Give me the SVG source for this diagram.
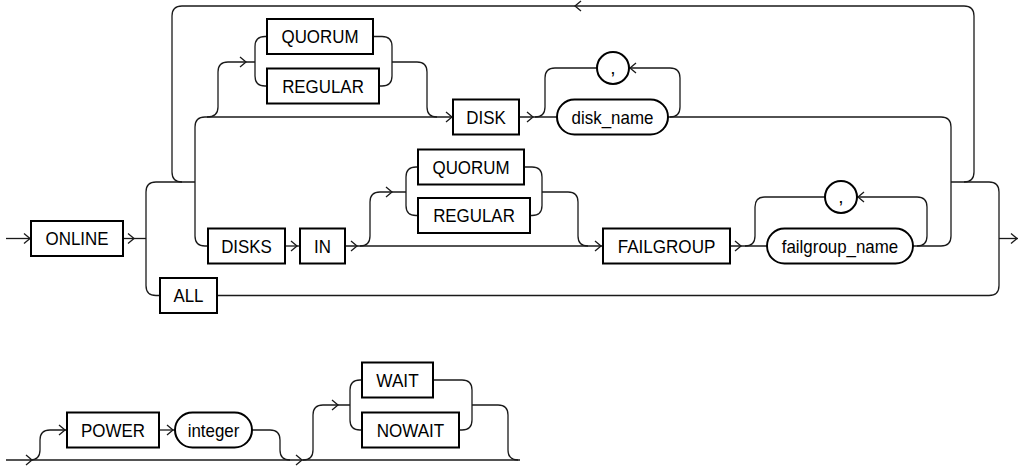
<svg xmlns="http://www.w3.org/2000/svg" xmlns:xlink="http://www.w3.org/1999/xlink" width="1018" height="469" viewBox="0 0 1018 469">
<style>
.c{fill:none;stroke:#1a1a1a;stroke-width:1.3}
.b{fill:#fff;stroke:#000;stroke-width:2}
.t{font-family:"Liberation Sans",Arial,sans-serif;font-size:19px;fill:#000;text-anchor:middle}
</style>
<defs>
<path id="ar" d="M-6,-5 L0,0 L-6,5" fill="none" stroke="#1a1a1a" stroke-width="1.3"/>
<path id="al" d="M6,-5 L0,0 L6,5" fill="none" stroke="#1a1a1a" stroke-width="1.3"/>
</defs>
<g id="connectors">
<path class="c" d="M6,238.5 H31"/>
<path class="c" d="M123,238.5 H146"/>
<path class="c" d="M195,182 H156 Q146,182 146,192 V285.5 Q146,295.5 156,295.5 H160"/>
<path class="c" d="M182,182 Q172,182 172,172 V16 Q172,6 182,6 H964 Q974,6 974,16 V172 Q974,182 964,182"/>
<path class="c" d="M205,117 Q195,117 195,127 V236 Q195,246 205,246 H208"/>
<path class="c" d="M205,117 H453"/>
<path class="c" d="M207,117 Q218,117 218,107 V72 Q218,62 228,62 H255"/>
<path class="c" d="M267,36.5 H265 Q255,36.5 255,46.5 V76 Q255,86 265,86 H267"/>
<path class="c" d="M373,36.5 H382 Q392,36.5 392,46.5 V76 Q392,86 382,86 H379"/>
<path class="c" d="M392,62 H417 Q427,62 427,72 V107 Q427,117 437,117"/>
<path class="c" d="M519,117 H557"/>
<path class="c" d="M535,117 Q545,117 545,107 V78 Q545,68 555,68 H597"/>
<path class="c" d="M629,68 H670 Q680,68 680,78 V107 Q680,117 670,117"/>
<path class="c" d="M668,117 H941 Q951,117 951,127 V236 Q951,246 941,246 H913"/>
<path class="c" d="M285,246 H300"/>
<path class="c" d="M345,246 H603"/>
<path class="c" d="M360,246 Q370,246 370,236 V202 Q370,192 380,192 H406"/>
<path class="c" d="M418,167 H416 Q406,167 406,177 V205.5 Q406,215.5 416,215.5 H418"/>
<path class="c" d="M524,167 H532 Q542,167 542,177 V205.5 Q542,215.5 532,215.5 H530"/>
<path class="c" d="M542,192 H568 Q578,192 578,202 V236 Q578,246 588,246"/>
<path class="c" d="M730,246 H767"/>
<path class="c" d="M745,246 Q755,246 755,236 V207 Q755,197 765,197 H825"/>
<path class="c" d="M857,197 H917 Q927,197 927,207 V236 Q927,246 917,246"/>
<path class="c" d="M951,182 H989 Q999,182 999,192 V285.5 Q999,295.5 989,295.5 H217"/>
<path class="c" d="M999,238.5 H1018"/>
<path class="c" d="M6,460 H520"/>
<path class="c" d="M30,460 Q40,460 40,450 V440 Q40,430 50,430 H67"/>
<path class="c" d="M159,430 H175"/>
<path class="c" d="M252,430 H270 Q280,430 280,440 V450 Q280,460 290,460"/>
<path class="c" d="M303,460 Q313,460 313,450 V415 Q313,405 323,405 H350"/>
<path class="c" d="M362,380 H360 Q350,380 350,390 V420 Q350,430 360,430 H362"/>
<path class="c" d="M433,380 H462 Q472,380 472,390 V420 Q472,430 462,430 H459"/>
<path class="c" d="M472,405 H498 Q508,405 508,415 V450 Q508,460 518,460"/>
<use xlink:href="#ar" x="30" y="238.5"/>
<use xlink:href="#ar" x="134" y="238.5"/>
<use xlink:href="#al" x="575" y="6"/>
<use xlink:href="#ar" x="246" y="62"/>
<use xlink:href="#ar" x="452" y="117"/>
<use xlink:href="#ar" x="533" y="117"/>
<use xlink:href="#al" x="630" y="68"/>
<use xlink:href="#ar" x="297" y="246"/>
<use xlink:href="#ar" x="357" y="246"/>
<use xlink:href="#ar" x="392" y="192"/>
<use xlink:href="#ar" x="601" y="246"/>
<use xlink:href="#ar" x="741" y="246"/>
<use xlink:href="#al" x="858" y="197"/>
<use xlink:href="#ar" x="1017" y="238.5"/>
<use xlink:href="#ar" x="32" y="460"/>
<use xlink:href="#ar" x="65" y="430"/>
<use xlink:href="#ar" x="173" y="430"/>
<use xlink:href="#ar" x="302" y="460"/>
<use xlink:href="#ar" x="338" y="405"/>
</g>
<g id="n-online"><rect class="b" x="31" y="221" width="92" height="35"/><text class="t" x="77" y="245.3" textLength="63" lengthAdjust="spacingAndGlyphs">ONLINE</text></g>
<g id="n-quorum1"><rect class="b" x="267" y="19" width="106" height="35"/><text class="t" x="320" y="43.3" textLength="77" lengthAdjust="spacingAndGlyphs">QUORUM</text></g>
<g id="n-regular1"><rect class="b" x="267" y="68.5" width="112" height="35"/><text class="t" x="323" y="92.8" textLength="81.7" lengthAdjust="spacingAndGlyphs">REGULAR</text></g>
<g id="n-disk"><rect class="b" x="453" y="99.5" width="66" height="35"/><text class="t" x="486" y="123.8" textLength="39.5" lengthAdjust="spacingAndGlyphs">DISK</text></g>
<g id="n-disk_name"><rect class="b" x="557" y="99.5" width="111" height="35" rx="17.5"/><text class="t" x="612.5" y="123.8" textLength="81.8" lengthAdjust="spacingAndGlyphs">disk_name</text></g>
<g id="n-comma1"><circle class="b" cx="613" cy="68" r="16"/><text class="t" x="613" y="74">,</text></g>
<g id="n-disks"><rect class="b" x="208" y="228.5" width="77" height="35"/><text class="t" x="246.5" y="252.8" textLength="50.7" lengthAdjust="spacingAndGlyphs">DISKS</text></g>
<g id="n-in"><rect class="b" x="300" y="228.5" width="45" height="35"/><text class="t" x="322.5" y="252.8" textLength="16.9" lengthAdjust="spacingAndGlyphs">IN</text></g>
<g id="n-quorum2"><rect class="b" x="418" y="149.5" width="106" height="35"/><text class="t" x="471" y="173.8" textLength="77" lengthAdjust="spacingAndGlyphs">QUORUM</text></g>
<g id="n-regular2"><rect class="b" x="418" y="198" width="112" height="35"/><text class="t" x="474" y="222.3" textLength="81.7" lengthAdjust="spacingAndGlyphs">REGULAR</text></g>
<g id="n-failgroup"><rect class="b" x="603" y="228.5" width="127" height="35"/><text class="t" x="666.5" y="252.8" textLength="97.7" lengthAdjust="spacingAndGlyphs">FAILGROUP</text></g>
<g id="n-failgroup_name"><rect class="b" x="767" y="228.5" width="146" height="35" rx="17.5"/><text class="t" x="840" y="252.8" textLength="116.5" lengthAdjust="spacingAndGlyphs">failgroup_name</text></g>
<g id="n-comma2"><circle class="b" cx="841" cy="197" r="16"/><text class="t" x="841" y="203">,</text></g>
<g id="n-all"><rect class="b" x="160" y="278" width="57" height="35"/><text class="t" x="188.5" y="302.3" textLength="30" lengthAdjust="spacingAndGlyphs">ALL</text></g>
<g id="n-power"><rect class="b" x="67" y="412.5" width="92" height="35"/><text class="t" x="113" y="436.8" textLength="63.9" lengthAdjust="spacingAndGlyphs">POWER</text></g>
<g id="n-integer"><rect class="b" x="175" y="412.5" width="77" height="35" rx="17.5"/><text class="t" x="213.5" y="436.8" textLength="51.7" lengthAdjust="spacingAndGlyphs">integer</text></g>
<g id="n-wait"><rect class="b" x="362" y="362.5" width="71" height="35"/><text class="t" x="397.5" y="386.8" textLength="42.3" lengthAdjust="spacingAndGlyphs">WAIT</text></g>
<g id="n-nowait"><rect class="b" x="362" y="412.5" width="97" height="35"/><text class="t" x="410.5" y="436.8" textLength="67.6" lengthAdjust="spacingAndGlyphs">NOWAIT</text></g>
</svg>
